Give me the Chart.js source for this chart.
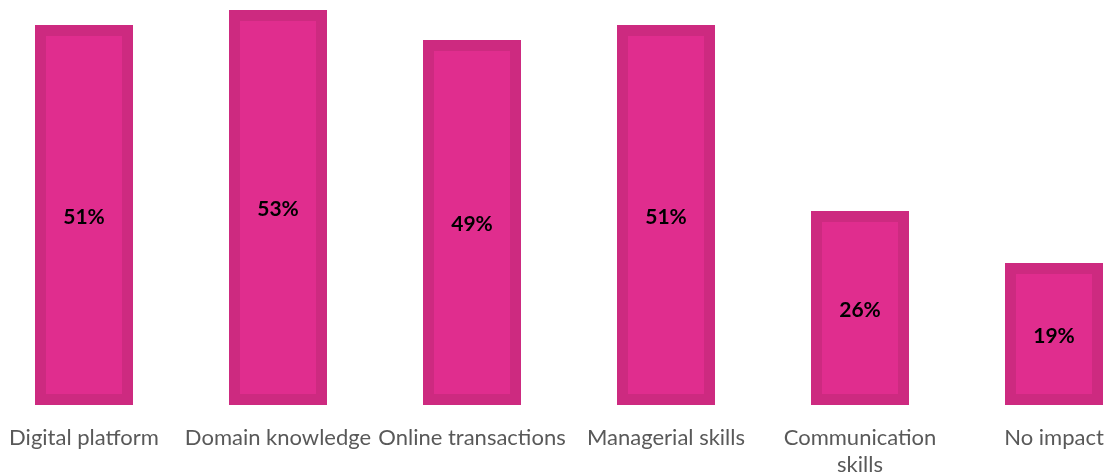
<!DOCTYPE html>
<html>
<head>
<meta charset="utf-8">
<script src="https://cdn.jsdelivr.net/npm/chart.js@4/dist/chart.umd.min.js"></script>
<style>
  html, body { margin: 0; padding: 0; background: #fff; overflow: hidden; }
  #wrap { position: absolute; left: -13px; top: 0; width: 1164px; height: 474px; }
</style>
</head>
<body>
<div id="wrap"><canvas id="skillsChart"></canvas></div>
<script>
const categories = ['Digital platform', 'Domain knowledge', 'Online transactions', 'Managerial skills', ['Communication', 'skills'], 'No impact'];
const shares = [51, 53, 49, 51, 26, 19];

// округляем геометрию столбцов, чтобы между рамкой и заливкой не было светлого шва
const snapBars = {
    id: 'snapBars',
    afterDatasetsUpdate(chart) {
        chart.getDatasetMeta(0).data.forEach(bar => {
            bar.y = Math.round(bar.y);
            bar.base = Math.round(bar.base);
            bar.x = Math.round(bar.x);
            bar.width = Math.round(bar.width / 2) * 2;
        });
    }
};

// подписи значений по центру столбца
const centerLabels = {
    id: 'centerLabels',
    afterDatasetsDraw(chart) {
        const ctx = chart.ctx;
        const meta = chart.getDatasetMeta(0);
        ctx.save();
        ctx.font = 'bold 21px Lato, "Open Sans", sans-serif';
        ctx.fillStyle = '#000';
        ctx.textAlign = 'center';
        ctx.textBaseline = 'middle';
        meta.data.forEach((bar, i) => {
            ctx.fillText(shares[i] + '%', bar.x, (bar.y + bar.base) / 2 + 2);
        });
        ctx.restore();
    }
};

new Chart(document.getElementById('skillsChart'), {
    type: 'bar',
    data: {
        labels: categories,
        datasets: [{
            data: shares,
            backgroundColor: '#E02D8E',
            borderColor: '#CD2A80',
            borderWidth: 11,
            borderSkipped: false,
            barPercentage: 0.5,
            categoryPercentage: 1
        }]
    },
    options: {
        responsive: true,
        maintainAspectRatio: false,
        animation: false,
        layout: { padding: 0 },
        plugins: {
            legend: { display: false },
            tooltip: { enabled: false }
        },
        scales: {
            y: { display: false, min: 0, max: 54.3 },
            x: {
                grid: { display: false, drawTicks: false },
                border: { display: false },
                afterFit: s => { s.height = 69; },
                ticks: {
                    autoSkip: false,
                    maxRotation: 0,
                    padding: 20,
                    color: '#595959',
                    font: { family: 'Lato, "Open Sans", sans-serif', size: 22, lineHeight: 1.2 }
                }
            }
        }
    },
    plugins: [snapBars, centerLabels]
});
</script>
</body>
</html>
